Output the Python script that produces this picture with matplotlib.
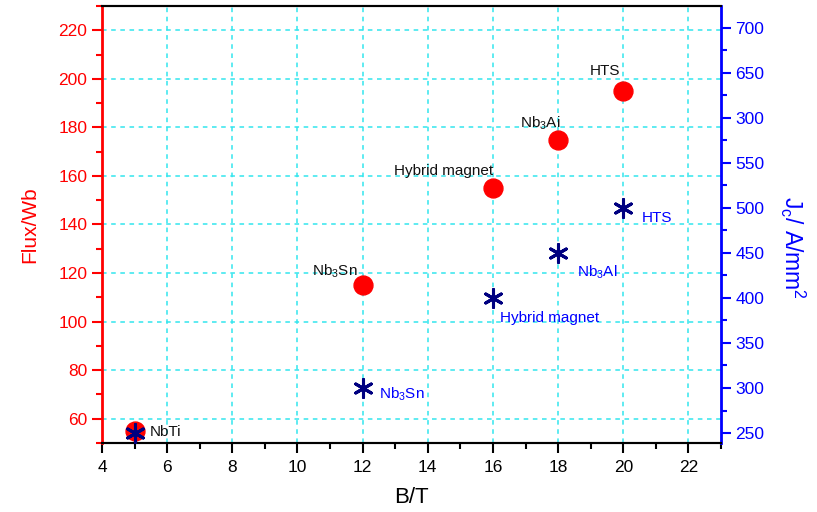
import matplotlib
matplotlib.use("Agg")
import matplotlib.pyplot as plt
from matplotlib.ticker import MultipleLocator

plt.rcParams['font.family'] = ['Liberation Sans', 'DejaVu Sans']
plt.rcParams['mathtext.fontset'] = 'custom'
plt.rcParams['mathtext.rm'] = 'Liberation Sans'
plt.rcParams['mathtext.it'] = 'Liberation Sans'

# field (T), flux (Wb) and critical current density (A/mm^2)
field = [5, 12, 16, 18, 20]
flux = [55, 115, 155, 175, 195]
jc = [250, 300, 400, 450, 500]

flux_names = ['NbTi', 'Nb$_3$Sn', 'Hybrid magnet', 'Nb$_3$Ai', 'HTS']
jc_names = ['', 'Nb$_3$Sn', 'Hybrid magnet', 'Nb$_3$Al', 'HTS']

right_ticks = [250, 300, 350, 400, 450, 500, 550, 600, 650, 700]
right_labels = ['250', '300', '350', '400', '450', '500', '550', '300', '650', '700']

# label offsets in pixels from the marker to the text baseline
flux_offsets = [(15, -5, 'left'), (-5, 10, 'right'), (0, 13, 'right'),
                (2, 12, 'right'), (-3, 16, 'right')]
jc_offsets = [(0, 0, 'left'), (16, -11, 'left'), (7, -24, 'left'),
              (19, -24, 'left'), (18, -14, 'left')]

red = '#ff0000'
blue = '#0000ff'
navy = '#000080'

fig = plt.figure(figsize=(8.17, 5.12), dpi=100)
ax = fig.add_axes([0.1248, 0.1348, 0.7577, 0.8535])
ax2 = ax.twinx()

ax.set_xlim(4, 23)
ax.set_ylim(50, 230)
ax2.set_ylim(239, 724)

ax.xaxis.set_major_locator(MultipleLocator(2))
ax.xaxis.set_minor_locator(MultipleLocator(1))
ax.yaxis.set_major_locator(MultipleLocator(20))
ax.yaxis.set_minor_locator(MultipleLocator(10))
ax2.set_yticks(right_ticks, labels=right_labels)
ax2.yaxis.set_minor_locator(MultipleLocator(25))

ax.grid(True, which='major', color='#33e5ee', linestyle=(0, (3, 3)), linewidth=1.1)
ax.set_axisbelow(True)

ax.tick_params(axis='x', which='major', direction='out', length=7, width=1.5,
               labelsize=12.5, pad=5)
ax.tick_params(axis='x', which='minor', direction='out', length=4, width=1.5)
ax.tick_params(axis='y', which='major', direction='out', length=7, width=1.5,
               colors=red, labelsize=12.5)
ax.tick_params(axis='y', which='minor', direction='out', length=4, width=1.5,
               colors=red)
ax2.tick_params(axis='y', which='major', direction='out', length=7, width=1.5,
                colors=blue, labelsize=12.5)
ax2.tick_params(axis='y', which='minor', direction='out', length=4, width=1.5,
                colors=blue)

for a in (ax, ax2):
    a.spines['top'].set_linewidth(1.5)
    a.spines['bottom'].set_linewidth(1.5)
ax.spines['left'].set_color(red)
ax.spines['left'].set_linewidth(2)
ax.spines['right'].set_visible(False)
ax2.spines['left'].set_visible(False)
ax2.spines['right'].set_color(blue)
ax2.spines['right'].set_linewidth(2)

ax.scatter(field, flux, s=185, color=red, zorder=3, clip_on=False)
ax2.scatter(field, jc, s=165, marker=(6, 2, 0), color=navy, linewidths=2.2,
            zorder=4, clip_on=False)

for x, y, name, (dx, dy, ha) in zip(field, flux, flux_names, flux_offsets):
    ax.annotate(name, (x, y), xytext=(dx, dy), textcoords='offset pixels',
                ha=ha, va='baseline', fontsize=11, color='#111111')

for x, y, name, (dx, dy, ha) in zip(field, jc, jc_names, jc_offsets):
    if name:
        ax2.annotate(name, (x, y), xytext=(dx, dy), textcoords='offset pixels',
                     ha=ha, va='baseline', fontsize=11, color=blue)

ax.set_xlabel('B/T', fontsize=16, labelpad=9)
ax.set_ylabel('Flux/Wb', fontsize=15, color=red, labelpad=14)
fig.text(793 / 817, 1 - 247 / 512, 'J$_c$/ A/mm$^2$', fontsize=16.5,
         color=blue, rotation=270, ha='center', va='center')

fig.savefig('out.png', dpi=100)
